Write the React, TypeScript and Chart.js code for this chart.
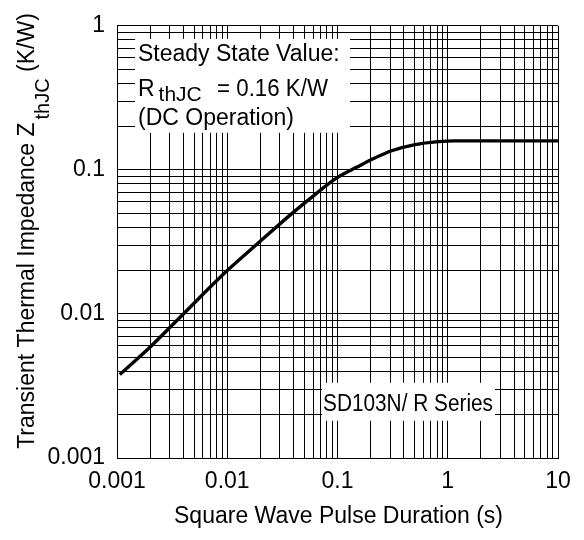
import { useEffect, useRef } from 'react';
import { Chart, registerables } from 'chart.js';

Chart.register(...registerables);

// Square wave pulse duration (s)
const pulseDuration = [0.00106, 0.002, 0.004, 0.01, 0.0198, 0.0397, 0.0625, 0.0984, 0.15, 0.204, 0.31, 0.505, 0.82, 1.16, 10];
// Transient thermal impedance Z_thJC (K/W)
const impedance = [0.0038, 0.0059, 0.01, 0.02, 0.0318, 0.0507, 0.0674, 0.088, 0.1045, 0.118, 0.1357, 0.1497, 0.157, 0.159, 0.159];

const xGridValues = [
  0.001, 0.002, 0.003, 0.004, 0.005, 0.006, 0.007, 0.008, 0.009,
  0.01, 0.02, 0.03, 0.04, 0.05, 0.06, 0.07, 0.08, 0.09,
  0.1, 0.2, 0.3, 0.4, 0.5, 0.6, 0.7, 0.8, 0.9,
  1, 2, 3, 4, 5, 6, 7, 8, 9, 10,
];
const yGridValues = [
  0.001, 0.002, 0.003, 0.004, 0.005, 0.006, 0.007, 0.008, 0.009,
  0.01, 0.02, 0.03, 0.04, 0.05, 0.06, 0.07, 0.08, 0.09,
  0.1, 0.2, 0.3, 0.4, 0.5, 0.6, 0.7, 0.8, 0.9, 1,
];
const xMajorValues = [0.001, 0.01, 0.1, 1, 10];
const xTickLabels = ['0.001', '0.01', '0.1', '1', '10'];
const yMajorValues = [0.001, 0.01, 0.1, 1];
const yTickLabels = ['0.001', '0.01', '0.1', '1'];

const xTitle = 'Square Wave Pulse Duration (s)';
const yTitleMain = 'Transient Thermal Impedance Z';
const yTitleSub = 'thJC';
const yTitleEnd = ' (K/W)';
const steadyLines = ['Steady State Value:', '(DC Operation)'];
const rLabel = 'R';
const rSub = 'thJC';
const rValue = '= 0.16 K/W';
const seriesLabel = 'SD103N/ R Series';

const FONT = "'Liberation Sans', Arial, sans-serif";

function labelFor(v: number, majors: number[], labels: string[]) {
  for (let i = 0; i < majors.length; i++) {
    if (Math.abs(v - majors[i]) / majors[i] < 1e-6) return labels[i];
  }
  return '';
}

function fillFitted(ctx: any, text: string, x: number, y: number, width: number) {
  const w = ctx.measureText(text).width;
  const s = Math.min(1, width / w);
  ctx.save();
  ctx.translate(x, y);
  ctx.scale(s, 1);
  ctx.fillText(text, 0, 0);
  ctx.restore();
}

const textPlugin = {
  id: 'customText',
  beforeDatasetsDraw(chart: any) {
    const { ctx, chartArea } = chart;
    const L = chartArea.left;
    const T = chartArea.top;
    ctx.save();
    // Steady-state box
    ctx.fillStyle = '#fff';
    ctx.fillRect(L + 18, T + 13, 215, 94);
    // Series box
    ctx.fillRect(L + 205, T + 357, 173, 38);

    ctx.fillStyle = '#000';
    ctx.textAlign = 'left';
    ctx.textBaseline = 'alphabetic';
    ctx.font = `23px ${FONT}`;
    const tx = L + 21;
    fillFitted(ctx, steadyLines[0], tx, T + 35, 207);
    ctx.fillText(rLabel, tx, T + 70);
    const rw = ctx.measureText(rLabel).width;
    ctx.font = `21px ${FONT}`;
    ctx.fillText(rSub, tx + rw + 4, T + 75);
    ctx.font = `23px ${FONT}`;
    fillFitted(ctx, rValue, L + 100, T + 70, 111);
    fillFitted(ctx, steadyLines[1], tx, T + 99, 167);

    fillFitted(ctx, seriesLabel, L + 206, T + 385, 170);
    ctx.restore();
  },
  afterDraw(chart: any) {
    const { ctx, chartArea } = chart;
    ctx.save();
    ctx.fillStyle = '#000';
    ctx.textBaseline = 'alphabetic';
    // X title
    ctx.font = `23px ${FONT}`;
    ctx.textAlign = 'center';
    ctx.fillText(xTitle, (chartArea.left + chartArea.right) / 2 + 1, 523);

    // Y title (rotated)
    ctx.textAlign = 'left';
    ctx.font = `23px ${FONT}`;
    const w1 = ctx.measureText(yTitleMain).width;
    const w3 = ctx.measureText(yTitleEnd).width;
    ctx.font = `20px ${FONT}`;
    const w2 = ctx.measureText(yTitleSub).width;
    const total = w1 + 3 + w2 + w3;
    const cy = 231;
    ctx.translate(34, cy);
    ctx.rotate(-Math.PI / 2);
    let x = -total / 2;
    ctx.font = `23px ${FONT}`;
    ctx.fillText(yTitleMain, x, 0);
    x += w1 + 3;
    ctx.font = `20px ${FONT}`;
    ctx.fillText(yTitleSub, x, 15);
    x += w2;
    ctx.font = `23px ${FONT}`;
    ctx.fillText(yTitleEnd, x, 0);
    ctx.restore();
  },
};

export default function App() {
  const canvasRef = useRef<HTMLCanvasElement | null>(null);

  useEffect(() => {
    document.body.style.margin = '0';
    const canvas = canvasRef.current;
    if (!canvas) return;
    const chart = new Chart(canvas, {
      type: 'line',
      data: {
        datasets: [
          {
            data: pulseDuration.map((x, i) => ({ x, y: impedance[i] })),
            borderColor: '#000',
            borderWidth: 3.4,
            pointRadius: 0,
            fill: false,
            cubicInterpolationMode: 'monotone',
          },
        ],
      },
      options: {
        responsive: false,
        animation: false,
        events: [],
        layout: { padding: { top: 13, right: 26, left: 0, bottom: 0 } },
        plugins: {
          legend: { display: false },
          tooltip: { enabled: false },
          title: { display: false },
        },
        scales: {
          x: {
            type: 'logarithmic',
            min: 0.001,
            max: 10,
            afterBuildTicks: (scale: any) => {
              scale.ticks = xGridValues.map((v) => ({ value: v }));
            },
            afterFit: (scale: any) => {
              scale.height = 82;
            },
            grid: { color: '#000', lineWidth: 1, drawTicks: false },
            border: { display: true, color: '#000', width: 1 },
            ticks: {
              autoSkip: false,
              maxRotation: 0,
              padding: 10,
              color: '#000',
              font: { family: FONT, size: 23 },
              callback: (v: any) => labelFor(Number(v), xMajorValues, xTickLabels),
            },
          },
          y: {
            type: 'logarithmic',
            min: 0.001,
            max: 1,
            afterBuildTicks: (scale: any) => {
              scale.ticks = yGridValues.map((v) => ({ value: v }));
            },
            afterFit: (scale: any) => {
              scale.width = 117;
            },
            grid: { color: '#000', lineWidth: 1, drawTicks: false },
            border: { display: true, color: '#000', width: 1 },
            ticks: {
              autoSkip: false,
              padding: 12,
              color: '#000',
              font: { family: FONT, size: 23 },
              callback: (v: any) => labelFor(Number(v), yMajorValues, yTickLabels),
            },
          },
        },
      },
      plugins: [textPlugin],
    });
    return () => chart.destroy();
  }, []);

  return (
    <div style={{ width: 584, height: 540 }}>
      <canvas ref={canvasRef} width={584} height={540} style={{ display: 'block' }} />
    </div>
  );
}
